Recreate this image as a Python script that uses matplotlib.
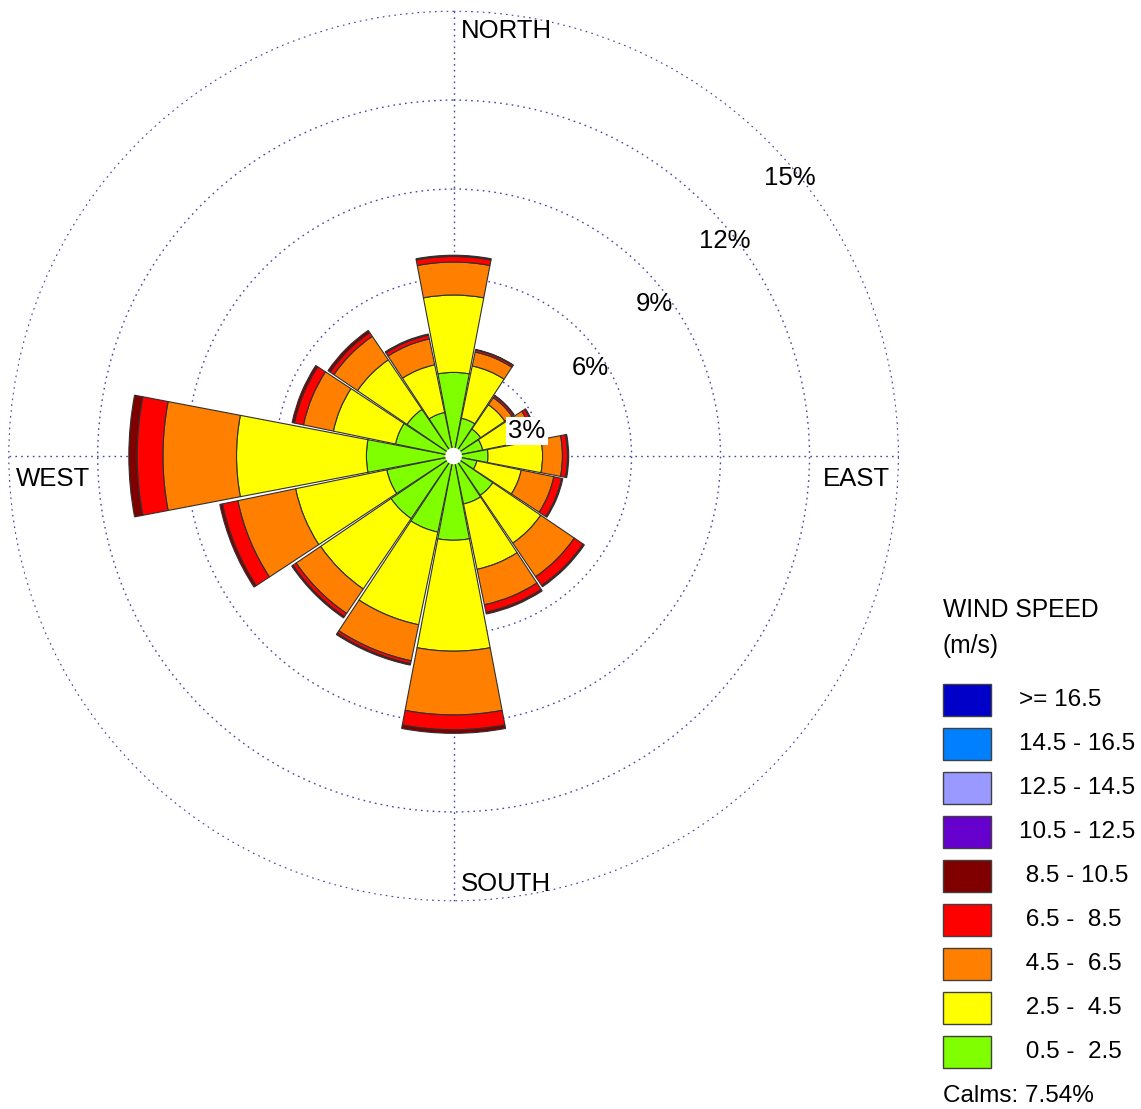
import numpy as np
import matplotlib
matplotlib.use("Agg")
import matplotlib.pyplot as plt
from matplotlib.patches import Rectangle, Circle

plt.rcParams['font.family'] = ['Liberation Sans', 'DejaVu Sans']

# directions N, NNE, ... NNW (clockwise from north)
directions = ['N', 'NNE', 'NE', 'ENE', 'E', 'ESE', 'SE', 'SSE',
              'S', 'SSW', 'SW', 'WSW', 'W', 'WNW', 'NW', 'NNW']

# frequency (%) of each speed class per direction
spd_05_25 = [2.82, 1.30, 1.10, 1.00, 1.16, 0.80, 1.60, 1.65,
             2.84, 2.62, 2.55, 2.30, 2.94, 2.00, 1.90, 1.50]
spd_25_45 = [2.61, 1.80, 0.99, 1.40, 1.84, 1.53, 1.95, 2.25,
             3.74, 3.19, 2.87, 3.14, 4.38, 2.14, 2.02, 1.64]
spd_45_65 = [1.11, 0.48, 0.29, 0.35, 0.67, 1.12, 1.37, 1.22,
             2.15, 1.24, 1.00, 1.99, 2.48, 1.03, 0.96, 0.89]
spd_65_85 = [0.19, 0.07, 0.07, 0.12, 0.17, 0.27, 0.36, 0.26,
             0.50, 0.10, 0.13, 0.53, 0.87, 0.31, 0.15, 0.13]
spd_85_105 = [0.04, 0.02, 0.02, 0.03, 0.04, 0.04, 0.05, 0.06,
              0.12, 0.05, 0.05, 0.09, 0.28, 0.08, 0.09, 0.04]

calms = 7.54

legend_labels = ['>= 16.5', '14.5 - 16.5', '12.5 - 14.5', '10.5 - 12.5',
                 ' 8.5 - 10.5', ' 6.5 -  8.5', ' 4.5 -  6.5', ' 2.5 -  4.5',
                 ' 0.5 -  2.5']
legend_colors = ['#0000c8', '#0080ff', '#9999ff', '#6600cc',
                 '#800000', '#ff0000', '#ff8000', '#ffff00', '#80ff00']

ring_values = [3, 6, 9, 12, 15]

fig = plt.figure(figsize=(11.41, 11.09), dpi=100)
ax = fig.add_axes([0.0071, 0.1871, 0.7809, 0.8034], projection='polar')
ax.set_theta_zero_location('N')
ax.set_theta_direction(-1)

theta = np.deg2rad(np.arange(16) * 22.5)
width = np.deg2rad(21.6)

classes = [spd_05_25, spd_25_45, spd_45_65, spd_65_85, spd_85_105]
class_colors = ['#80ff00', '#ffff00', '#ff8000', '#ff0000', '#800000']
bottom = np.zeros(16)
for vals, col in zip(classes, class_colors):
    vals = np.array(vals)
    ax.bar(theta, vals, width=width, bottom=bottom, color=col,
           edgecolor='#303030', linewidth=0.8, zorder=3)
    bottom = bottom + vals

# calm circle
ax.add_patch(Circle((0, 0), 0.28, transform=ax.transData._b,
                    facecolor='white', edgecolor='none', zorder=5))

ax.set_ylim(0, 15.02)
ax.set_yticks(ring_values)
ax.set_xticks(np.deg2rad([0, 90, 180, 270]))
ax.set_yticklabels([])
ax.set_xticklabels([])
ax.grid(True, color='#4646aa', linestyle=(0, (1.2, 3.0)), linewidth=1.0)
ax.spines['polar'].set_visible(False)
ax.tick_params(length=0)
ax.set_axisbelow(True)

# ring labels
label_pos = [(0.5825, 0.528), (0.6532, 0.5988), (0.725, 0.6706),
             (0.8047, 0.7413), (0.8777, 0.812)]
for v, (lx, ly) in zip(ring_values, label_pos):
    bbox = dict(facecolor='white', edgecolor='none', pad=1.5) if v == 3 else None
    ax.text(lx, ly, f'{v}%', transform=ax.transAxes, ha='center', va='center',
            fontsize=18.5, zorder=6, bbox=bbox)

# compass labels
W, H = 1141, 1109
for txt, px, py in [('NORTH', 461, 31), ('SOUTH', 461, 884),
                    ('EAST', 823, 479), ('WEST', 16, 479)]:
    fig.text(px / W, 1 - py / H, txt, ha='left', va='center', fontsize=18.5)

# legend
fig.text(943 / W, 1 - 610 / H, 'WIND SPEED', ha='left', va='center', fontsize=17.7)
fig.text(943 / W, 1 - 646 / H, '(m/s)', ha='left', va='center', fontsize=17.7)
for i, (lab, col) in enumerate(zip(legend_labels, legend_colors)):
    yc = 700 + i * 44
    fig.patches.append(Rectangle((943 / W, 1 - (yc + 16) / H), 48 / W, 32 / H,
                                 transform=fig.transFigure, facecolor=col,
                                 edgecolor='#404040', linewidth=1.0))
    fig.text(1019 / W, 1 - yc / H, lab, ha='left', va='center', fontsize=17.5)
fig.text(943 / W, 1 - 1096 / H, f'Calms: {calms:.2f}%', ha='left', va='center',
         fontsize=17.5)

fig.savefig('out.png', dpi=100, facecolor='white')
